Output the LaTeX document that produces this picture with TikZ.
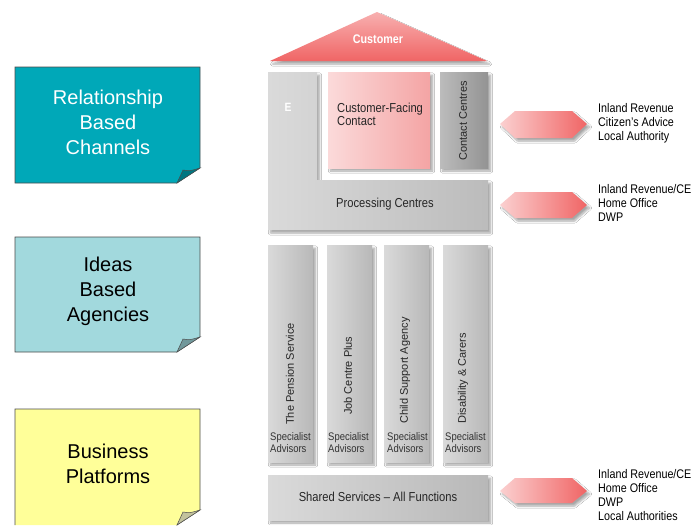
\documentclass[tikz,border=0pt]{standalone}
\usepackage{fontspec}
\setmainfont{Liberation Sans}
\newfontfamily\nar[FakeStretch=0.86,Ligatures=TeX]{Liberation Sans}
\usetikzlibrary{shadows.blur}
\definecolor{teal1}{HTML}{00A8B8}
\definecolor{teal2}{HTML}{A2D9DD}
\definecolor{yell}{HTML}{FFFF99}
\definecolor{gryL}{HTML}{DADADA}
\definecolor{gryD}{HTML}{B8B8B8}
\definecolor{pinkL}{HTML}{FBDADA}
\definecolor{pinkD}{HTML}{F4A4A4}
\definecolor{redL}{HTML}{FBD0D0}
\definecolor{redD}{HTML}{F06565}
\definecolor{txtg}{HTML}{333333}
\tikzset{
  shad/.style={blur shadow={shadow xshift=2.5pt,shadow yshift=-3pt,shadow blur steps=6,shadow opacity=35}},
  greyblk/.style={left color=gryL,right color=gryD,shad},
  sticky/.style={draw=black!70,line width=0.6pt},
  stxt/.style={align=center,font=\fontsize{20}{25}\selectfont},
  btxt/.style={font=\nar\fontsize{13}{13}\selectfont,text=black!85,inner sep=0pt},
  vtxt/.style={font=\fontsize{11}{13}\selectfont,text=black!85,rotate=90,anchor=west,inner sep=0pt},
  spec/.style={font=\nar\fontsize{11}{12}\selectfont,text=txtg,align=left,anchor=north west,inner sep=0pt},
  rtxt/.style={font=\nar\fontsize{12.5}{14}\selectfont,align=left,anchor=west,inner sep=0pt},
  hexa/.style={left color=redL,right color=redD,shad}
}
\begin{document}
\begin{tikzpicture}[x=1pt,y=-1pt]
\useasboundingbox[fill=white] (0,0) rectangle (696,525);
% sticky notes
\fill[teal1] (15,67) -- (200,67) -- (200,168) -- (177,183) -- (15,183) -- cycle;
\draw[sticky] (15,67) -- (200,67) -- (200,168) -- (177,183) -- (15,183) -- cycle;
\filldraw[fill=teal1!70!black,draw=black!70,line width=0.5pt] (177,183) .. controls (180,176) .. (183,170) .. controls (190,171) .. (200,168) -- cycle;
\node[stxt,text=white] (rbc) at (108,122) {Relationship\\Based\\Channels};

\fill[teal2] (15,237) -- (200,237) -- (200,337) -- (177,352) -- (15,352) -- cycle;
\draw[sticky] (15,237) -- (200,237) -- (200,337) -- (177,352) -- (15,352) -- cycle;
\filldraw[fill=teal2!70!black,draw=black!70,line width=0.5pt] (177,352) .. controls (180,345) .. (183,339) .. controls (190,340) .. (200,337) -- cycle;
\node[stxt] (iba) at (108,291) {Ideas\\Based\\Agencies};

\fill[yell] (15,409) -- (200,409) -- (200,510) -- (177,525) -- (15,525) -- cycle;
\draw[sticky] (15,525) -- (15,409) -- (200,409) -- (200,510) -- (177,525);
\filldraw[fill=yell!60!black!60,draw=black!70,line width=0.5pt] (177,525) .. controls (180,518) .. (183,512) .. controls (190,513) .. (200,510) -- cycle;
\node[stxt] (bp) at (108,464) {Business\\Platforms};

% roof
\path[top color=redL!70!redD,bottom color=redD,shad] (377,12) -- (487,61) -- (270,61) -- cycle;
\node[font=\nar\bfseries\fontsize{12.5}{13}\selectfont,text=white] (cust) at (378,39) {Customer};

% L block
\path[left color=gryL,right color=gryD!95!white,shad] (268,72) -- (317,72) -- (317,180) -- (488,180) -- (488,230) -- (268,230) -- cycle;
\node[font=\nar\bfseries\fontsize{12}{12}\selectfont,text=white] (e) at (288,107) {E};
\node[btxt] (proc) at (385,204) {Processing Centres};

% customer-facing contact
\path[left color=pinkL,right color=pinkD,shad] (328,72) rectangle (430,168);
\node[btxt,align=left,anchor=west] (cfc) at (337,114) {Customer-Facing\\Contact};

% contact centres
\path[left color=gryD!95!white,right color=gryD!80!black,shad] (440,72) rectangle (488,168);
\node[vtxt,anchor=center] (cc) at (463,121) {Contact Centres};

% columns
\path[greyblk] (268,245) rectangle (313,462);
\path[greyblk] (327,245) rectangle (372,462);
\path[greyblk] (384,245) rectangle (429,462);
\path[greyblk] (443,245) rectangle (488,462);
\node[vtxt] (c1) at (290,425) {The Pension Service};
\node[vtxt] (c2) at (348,415) {Job Centre Plus};
\node[vtxt] (c3) at (405,424) {Child Support Agency};
\node[vtxt] (c4) at (463,424) {Disability \& Carers};
\node[spec] (s1) at (270,432) {Specialist\\Advisors};
\node[spec] (s2) at (328,432) {Specialist\\Advisors};
\node[spec] (s3) at (387,432) {Specialist\\Advisors};
\node[spec] (s4) at (445,432) {Specialist\\Advisors};

% shared services
\path[greyblk] (268,475) rectangle (488,520);
\node[btxt] (ss) at (378,497) {Shared Services – All Functions};

% hexagon arrows
\path[hexa] (500,124) -- (515,111) -- (572,111) -- (587,124) -- (572,138) -- (515,138) -- cycle;
\path[hexa] (500,205) -- (515,192) -- (572,192) -- (587,205) -- (572,218) -- (515,218) -- cycle;
\path[hexa] (500,491) -- (515,478) -- (572,478) -- (587,491) -- (572,503) -- (515,503) -- cycle;

\node[rtxt] (r1) at (598,123) {Inland Revenue\\Citizen’s Advice\\Local Authority};
\node[rtxt] (r2) at (598,203) {Inland Revenue/CE\\Home Office\\DWP};
\node[rtxt] (r3) at (598,495) {Inland Revenue/CE\\Home Office\\DWP\\Local Authorities};
\end{tikzpicture}
\end{document}
